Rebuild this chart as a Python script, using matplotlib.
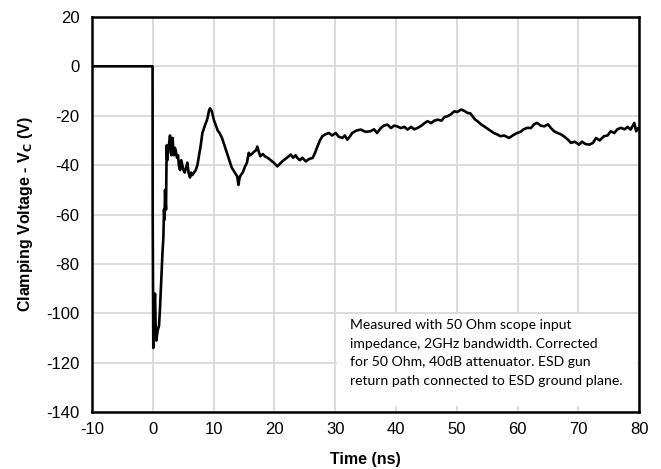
import matplotlib.pyplot as plt
from matplotlib.patches import Rectangle

time_ns = [-10, -0.02, 0.0, 0.1, 0.25, 0.38, 0.5, 0.6, 0.8, 1.04, 1.2, 1.43, 1.6, 1.76,
           1.86, 1.95, 2.03, 2.19, 2.3, 2.4, 2.52, 2.7, 2.85, 3.0, 3.07, 3.2, 3.29, 3.4,
           3.5, 3.65, 3.78, 4.0, 4.17, 4.3, 4.5, 4.7, 4.88, 5.05, 5.26, 5.5, 5.7, 5.9,
           6.14, 6.3, 6.52, 6.8, 7.07, 7.35, 7.62, 7.9, 8.17, 8.45, 8.72, 8.9, 9.1, 9.25,
           9.43, 9.55, 9.7, 9.9, 10.1, 10.4, 10.7, 11.0, 11.4, 11.8, 12.2, 12.6, 13.0,
           13.5, 13.9, 14.1, 14.3, 14.5, 14.8, 15.2, 15.5, 15.8, 16.0, 16.3, 16.7, 17.0,
           17.2, 17.5, 17.7, 18.1, 18.5, 18.9, 19.4, 19.9, 20.5, 20.9, 21.3, 21.8, 22.4,
           22.7, 23.1, 23.5, 23.8, 24.2, 24.6, 25.2, 25.7, 26.3, 26.7, 27.1, 27.5, 27.9,
           28.4, 29.0, 29.5, 30.1, 30.6, 31.2, 31.6, 32.0, 32.4, 32.8, 33.5, 34.2, 35.0,
           35.8, 36.4, 36.9, 37.5, 38.0, 38.6, 39.2, 39.7, 40.2, 40.8, 41.4, 41.9, 42.5,
           43.0, 43.6, 44.2, 44.7, 45.2, 45.8, 46.3, 46.9, 47.5, 48.0, 48.5, 49.0, 49.6,
           50.1, 50.7, 51.2, 51.8, 52.2, 52.6, 53.0, 53.4, 54.0, 54.5, 55.2, 56.1, 56.6,
           57.2, 57.8, 58.6, 59.2, 59.9, 60.5, 61.0, 61.6, 62.2, 62.7, 63.2, 63.8, 64.4,
           65.0, 65.5, 66.0, 66.6, 67.1, 67.6, 68.2, 68.8, 69.4, 70.1, 70.6, 71.2, 71.8,
           72.4, 72.9, 73.5, 74.2, 74.8, 75.3, 75.9, 76.4, 77.0, 77.6, 78.1, 78.6, 79.2,
           79.5, 79.8, 80.0]
voltage_v = [0, 0, -60, -114, -100, -92, -106, -111, -107, -105, -98, -85, -76, -69,
             -58, -62, -50, -58, -32, -38, -35, -31, -28, -34, -36, -30, -29, -35,
             -36, -33, -34, -37, -36, -40, -42, -38, -40, -42, -43, -41, -39, -43,
             -45, -43, -44, -43, -42, -40, -36, -32, -27, -25, -23, -22, -20, -18,
             -17, -17.5, -18, -20, -22, -24, -26, -27, -29, -32, -35, -38, -41,
             -43, -44.5, -48, -45, -44, -43, -40.5, -39, -35, -36, -35.5, -34.5, -34,
             -32.5, -35, -36.4, -35.5, -36.5, -37, -38, -39, -40.5, -39.5, -38.5, -37.5, -36.4,
             -35.7, -37, -36, -37.1, -38, -37, -38.5, -37.5, -37.1, -35, -32.4, -30, -28.3,
             -27.5, -27, -28, -27, -28.5, -29, -28, -29.7, -28.5, -27, -26, -25.6, -26.5,
             -26.3, -25.5, -27, -25, -24, -23.6, -25, -24, -24.3, -25, -24.5, -25.6, -24.5,
             -25.5, -24.9, -24, -23, -22.2, -23, -22, -21.6, -22, -20.5, -20.2, -19.5, -18.2,
             -18.5, -17.5, -18, -18.9, -19, -20.2, -21.5, -22.2, -23.5, -24.3, -25.5, -27, -27.5,
             -28.3, -28, -29, -28, -27, -26.5, -25.5, -24.9, -25, -23.5, -22.9, -24, -24.3,
             -23.5, -25, -26.3, -27, -27.5, -28.3, -29.5, -31, -30.5, -31.7, -30.5, -31.5, -31.7,
             -31, -29, -30, -28.3, -28, -26.3, -27, -25.5, -24.9, -25.5, -24.5, -25.6, -22.9,
             -26.3, -25, -25.5]

note = ("Measured with 50 Ohm scope input\n"
        "impedance, 2GHz bandwidth. Corrected\n"
        "for 50 Ohm, 40dB attenuator. ESD gun\n"
        "return path connected to ESD ground plane.")

plt.rcParams['font.family'] = ['Liberation Sans', 'DejaVu Sans']
plt.rcParams['axes.unicode_minus'] = False

fig = plt.figure(figsize=(6.61, 4.69), dpi=100)
ax = fig.add_axes([0.139, 0.121, 0.828, 0.843])

ax.plot(time_ns, voltage_v, color='black', lw=1.9, zorder=3)

ax.set_xlim(-10, 80)
ax.set_ylim(-140, 20)
ax.set_xticks(range(-10, 81, 10))
ax.set_yticks(range(-140, 21, 20))
ax.grid(True, color='#d9d9d9', lw=1.3)
ax.set_axisbelow(True)
ax.tick_params(length=0, labelsize=12)
ax.tick_params(axis='y', pad=9)
ax.tick_params(axis='x', pad=7)

for sp in ax.spines.values():
    sp.set_linewidth(1.8)
    sp.set_color('black')

ax.add_patch(Rectangle((30.3, -137.4), 49.4, 37.3, facecolor='white',
                       edgecolor='none', zorder=1.5))
ax.text(32.5, -102.3, note, family=['Lato', 'DejaVu Sans'], fontsize=10.1,
        va='top', ha='left', linespacing=1.66, zorder=4)

ax.set_xlabel('Time (ns)', fontsize=11.5, fontweight='bold', labelpad=11)
ax.set_ylabel(r'Clamping Voltage - V$_\mathbf{C}$ (V)', fontsize=11.5,
              fontweight='bold', labelpad=8)

fig.savefig('out.png', dpi=100)
